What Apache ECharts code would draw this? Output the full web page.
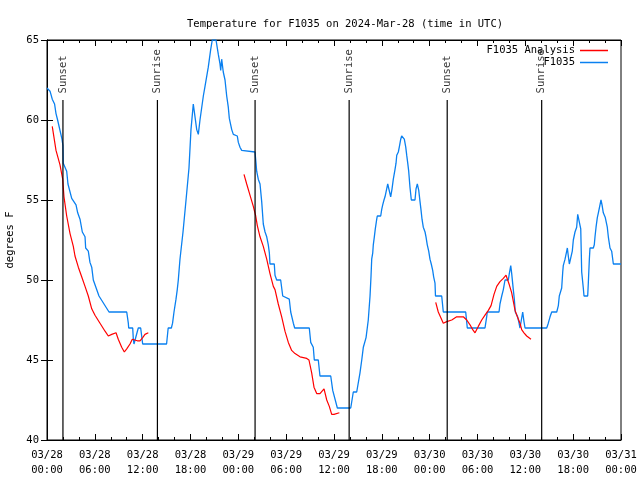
<!DOCTYPE html>
<html>
<head>
<meta charset="utf-8">
<script src="https://cdn.jsdelivr.net/npm/echarts@6/dist/echarts.min.js"></script>
<style>html,body{margin:0;padding:0;background:#fff}#c{width:640px;height:480px}</style>
</head>
<body>
<div id="c"></div>
<script>
// hours since 03/28 00:00 UTC
const hoursF1035 = [0,0.38,0.66,0.95,1.13,1.33,1.88,2.0,2.04,2.47,2.63,3.10,3.64,3.85,4.14,4.43,4.77,4.85,5.18,5.39,5.61,5.81,6.52,7.78,10.0,10.2,10.25,10.75,10.83,10.91,11.16,11.45,11.75,12.0,15.0,15.2,15.6,15.75,15.93,16.18,16.34,16.47,16.68,17.06,17.44,17.81,18.06,18.35,18.78,18.98,19.19,19.61,19.82,20.23,20.53,20.73,21.2,21.49,21.7,21.79,21.91,22.11,22.33,22.54,22.74,22.87,23.17,23.37,23.87,24.0,24.21,24.42,26.09,26.22,26.3,26.5,26.72,26.93,27.13,27.35,27.56,27.76,27.89,27.97,28.51,28.6,28.81,29.31,29.57,30.39,30.57,30.9,31.07,32.9,33.08,33.4,33.53,34.03,34.24,35.59,35.84,36.42,38.1,38.42,38.85,39.26,39.48,39.68,40.02,40.3,40.52,40.64,40.73,40.86,40.93,41.06,41.18,41.36,41.43,41.86,41.98,42.11,42.27,42.4,42.61,42.74,42.94,43.11,43.28,43.44,43.65,43.78,43.87,44.07,44.19,44.37,44.49,44.69,44.82,45.0,45.12,45.25,45.37,45.53,45.7,46.16,46.29,46.45,46.63,46.79,46.91,47.04,47.2,47.42,47.54,47.7,47.88,48.04,48.2,48.38,48.5,48.67,48.73,49.51,49.71,52.52,52.72,54.94,55.15,55.23,56.7,56.82,57.04,57.24,57.45,57.87,57.99,58.17,58.29,58.49,58.62,58.74,58.92,59.04,59.21,59.33,59.54,59.67,59.83,59.96,62.68,62.88,63.1,63.31,63.94,64.14,64.26,64.44,64.56,64.69,64.76,64.98,65.19,65.27,65.39,65.52,65.73,65.89,66.02,66.23,66.44,66.57,66.77,66.95,67.07,67.27,67.36,67.82,67.9,68.03,68.11,68.53,68.65,68.74,68.87,69.03,69.16,69.37,69.49,69.62,69.78,70.03,70.28,70.41,70.62,70.83,71.04,72.0];
const tempF1035 = [62,61.8,61.3,61,60.4,60,58.8,58.4,57.3,56.8,56,55.1,54.7,54.2,53.8,53,52.7,52,51.8,51.1,50.8,50,49,48,48,47.3,47,47,46.3,46,46,47,47,46,46,47,47,47.3,48,48.8,49.4,50,51.3,53,55,57,59.4,61,59.4,59.1,60,61.5,62.1,63.3,64.4,65,65,64.1,63.5,63.1,63.8,63,62.5,61.5,60.8,60.1,59.4,59.1,59,58.6,58.3,58.1,58,57.3,56.8,56.3,56,54.9,53.5,53,52.7,52.2,51.7,51,51,50.3,50,50,49,48.8,48,47.3,47,47,46.1,45.8,45,45,44,44,43.1,42,42,43,43,44.2,45,45.8,46.4,47.5,49,50.2,51.3,51.7,52.2,52.7,53.2,53.8,54,54,54.4,54.7,55,55.2,55.7,56,56,55.2,55.7,56.3,56.9,57.3,57.8,58,58.3,58.8,59,59,58.8,58.3,57.8,57.3,56.8,55.8,55,55,55.7,56,55.6,54.9,54.4,53.8,53.3,53,52.7,52.2,51.8,51.3,51,50.6,50.2,49.8,49,49,48,48,47,47,47.7,48,48,48.5,49,49.4,50,50,50.4,50.9,50.4,49.4,48.8,48,48,47.7,47.3,47,47,48,47.4,47,47,47.3,47.7,48,48,48.4,49,49,49.5,50.5,50.9,51.3,51.8,52,51.5,51,51,51.8,52.5,53,53.3,54.1,54.1,53.2,50.5,49.5,49,49,49.8,51.3,52,52,52.2,52.7,53.3,53.9,54.2,54.3,55,54.7,54.2,53.9,53.3,52.7,52,51.8,51,51];

// analysis series; null temperature marks a gap
const hoursAnalysis = [0.66,1.13,1.63,1.97,2.13,2.47,2.89,3.3,3.51,3.93,4.35,4.77,5.18,5.61,6.02,6.65,7.28,7.69,8.12,8.66,8.94,9.37,9.7,10.0,10.41,10.7,11.33,11.67,12.0,12.29,12.71,
  18,
  24.71,25.05,25.46,25.88,26.18,26.38,26.72,27.13,27.56,27.97,28.39,28.6,29.01,29.44,29.85,30.27,30.69,31.11,31.74,32.58,32.86,33.2,33.49,33.83,34.24,34.75,35.09,35.41,35.71,36.0,36.67,
  42,
  48.76,49.08,49.71,50.14,50.77,51.39,51.81,52.22,52.65,53.06,53.4,53.69,54.1,54.53,54.94,55.36,55.7,56.07,56.41,56.82,57.24,57.58,57.74,57.99,58.29,58.71,59.0,59.33,59.54,59.83,60.17,60.71];
const tempAnalysis = [59.6,58.1,57.2,56.3,55.2,54,52.9,52.1,51.5,50.8,50.2,49.6,49,48.2,47.8,47.3,46.8,46.5,46.6,46.7,46.3,45.8,45.5,45.7,46,46.3,46.2,46.2,46.4,46.6,46.7,
  null,
  56.6,56,55.3,54.6,54,53.4,52.7,52.1,51.3,50.4,49.6,49.4,48.5,47.7,46.8,46.1,45.6,45.4,45.2,45.1,45,44.2,43.3,42.9,42.9,43.2,42.5,42.1,41.6,41.6,41.7,
  null,
  48.6,48,47.3,47.4,47.5,47.7,47.7,47.7,47.5,47.2,46.9,46.7,47.1,47.5,47.8,48.1,48.4,49.1,49.6,49.9,50.1,50.3,50.3,49.7,49.2,48.1,47.7,47.3,46.9,46.7,46.5,46.3];

const sunHours = [2.0, 13.85, 26.1, 37.9, 50.2, 62.05];
const sunLabels = ['Sunset', 'Sunrise', 'Sunset', 'Sunrise', 'Sunset', 'Sunrise'];
const sunLineTop = 61.25;
const sunLabelBase = 61.6;

const FONT = 'DejaVu Sans Mono';
function pad(n){ return (n < 10 ? '0' : '') + n; }
function fmtHour(h){
  const day = 28 + Math.floor(h / 24);
  const hr = Math.round(h % 24);
  return '03/' + pad(day) + '\n' + pad(hr) + ':00';
}

const chart = echarts.init(document.getElementById('c'), null, {renderer: 'canvas'});

const series = [];
series.push({
  name: 'F1035 Analysis', type: 'line', xAxisIndex: 0, yAxisIndex: 0,
  data: hoursAnalysis.map((h, i) => [h, tempAnalysis[i] === null ? null : tempAnalysis[i]]),
  symbol: 'none', showSymbol: false, connectNulls: false, animation: false, z: 3,
  lineStyle: {color: '#ff0000', width: 1.2}, itemStyle: {color: '#ff0000'}
});
series.push({
  name: 'F1035', type: 'line', xAxisIndex: 0, yAxisIndex: 0,
  data: hoursF1035.map((h, i) => [h, tempF1035[i]]),
  symbol: 'none', showSymbol: false, animation: false, z: 2,
  lineStyle: {color: '#0a80f0', width: 1.3}, itemStyle: {color: '#0a80f0'}
});
sunHours.forEach((h, i) => {
  series.push({
    name: 'sun' + i, type: 'line', xAxisIndex: 0, yAxisIndex: 0,
    data: [[h, 40], [h, sunLineTop]], symbol: 'none', silent: true, animation: false, z: 4,
    lineStyle: {color: '#000', width: 1.2}
  });
});
series.push({
  name: 'sunlabels', type: 'scatter', xAxisIndex: 0, yAxisIndex: 0,
  data: sunHours.map((h, i) => ({value: [h, sunLabelBase], name: sunLabels[i]})),
  symbolSize: 0, silent: true, animation: false, z: 5,
  label: {show: true, position: 'inside', formatter: p => p.name, rotate: 90,
    align: 'left', verticalAlign: 'middle', offset: [1, 0],
    color: '#000', fontFamily: FONT, fontSize: 10.5}
});

chart.setOption({
  backgroundColor: '#fff',
  animation: false,
  title: {
    text: 'Temperature for F1035 on 2024-Mar-28 (time in UTC)',
    left: 182, top: 14,
    textStyle: {fontFamily: FONT, fontSize: 10.5, fontWeight: 'normal', color: '#000'}
  },
  legend: {
    data: [{name: 'F1035 Analysis', icon: 'rect'}, {name: 'F1035', icon: 'rect'}],
    orient: 'vertical', align: 'right', right: 27, top: 40,
    itemWidth: 28, itemHeight: 1.5, itemGap: 1, selectedMode: false,
    textStyle: {fontFamily: FONT, fontSize: 10.5, color: '#000'}
  },
  grid: {left: 47, right: 19, top: 40, bottom: 40, show: true, borderColor: '#000', borderWidth: 1,
    containLabel: false, outerBoundsMode: 'none'},
  xAxis: [{
    type: 'value', min: 0, max: 72, interval: 6, position: 'bottom',
    axisLine: {show: true, lineStyle: {color: '#000'}},
    axisTick: {show: true, inside: true, length: 6, lineStyle: {color: '#000'}},
    minorTick: {show: true, splitNumber: 3, length: 3, lineStyle: {color: '#000'}},
    splitLine: {show: false},
    axisLabel: {formatter: fmtHour, fontFamily: FONT, fontSize: 10.5, color: '#000', lineHeight: 15, margin: 8, hideOverlap: false}
  }, {
    type: 'value', min: 0, max: 72, interval: 6, position: 'top',
    axisLine: {show: true, lineStyle: {color: '#000'}},
    axisTick: {show: true, inside: true, length: 6, lineStyle: {color: '#000'}},
    minorTick: {show: true, splitNumber: 3, length: 3, lineStyle: {color: '#000'}},
    splitLine: {show: false}, axisLabel: {show: false}
  }],
  yAxis: [{
    type: 'value', min: 40, max: 65, interval: 5, position: 'left',
    name: 'degrees F', nameLocation: 'middle', nameGap: 31, nameRotate: 90,
    nameTextStyle: {fontFamily: FONT, fontSize: 10.5, color: '#000'},
    axisLine: {show: true, lineStyle: {color: '#000'}},
    axisTick: {show: true, inside: true, length: 6, lineStyle: {color: '#000'}},
    splitLine: {show: false},
    axisLabel: {fontFamily: FONT, fontSize: 10.5, color: '#000', margin: 8}
  }, {
    type: 'value', min: 40, max: 65, interval: 5, position: 'right',
    axisLine: {show: true, lineStyle: {color: '#000'}},
    axisTick: {show: true, inside: true, length: 6, lineStyle: {color: '#000'}},
    splitLine: {show: false}, axisLabel: {show: false}
  }],
  series: series
});
</script>
</body>
</html>
